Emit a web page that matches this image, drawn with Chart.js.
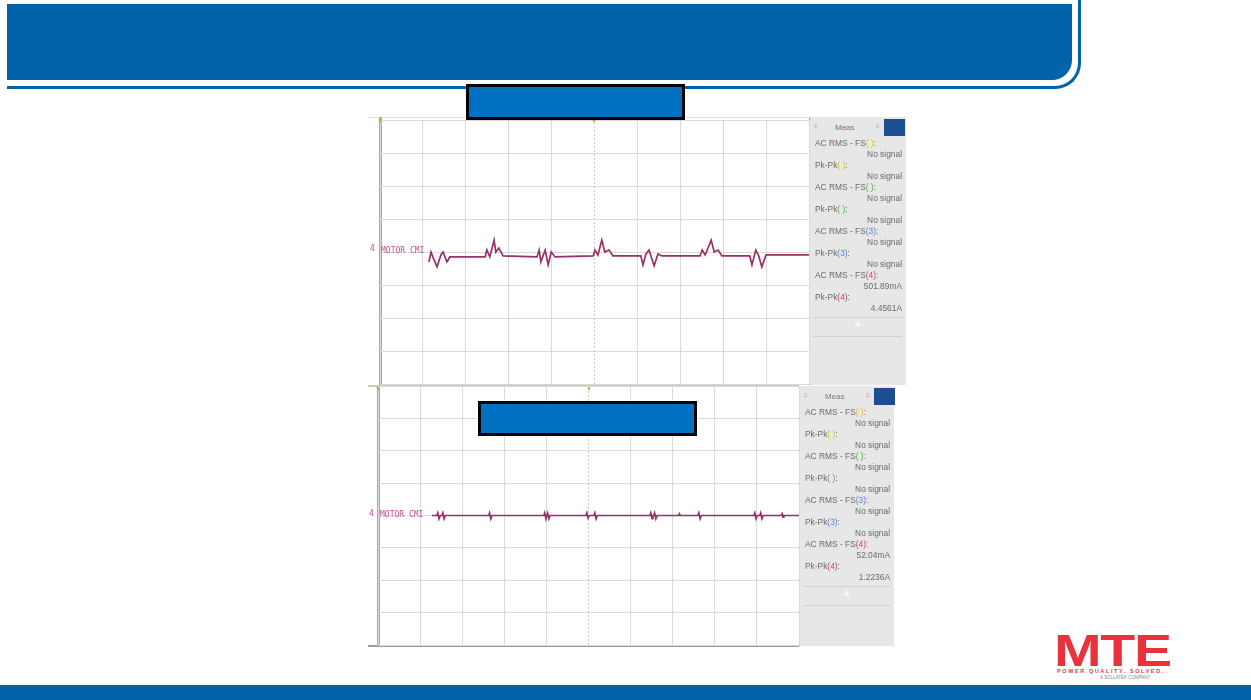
<!DOCTYPE html>
<html>
<head>
<meta charset="utf-8">
<script src="https://cdn.jsdelivr.net/npm/chart.js@4/dist/chart.umd.min.js"></script>
<style>
  html,body{margin:0;padding:0;background:#fff;}
  body{width:1251px;height:700px;position:relative;overflow:hidden;font-family:"Liberation Sans",Arial,sans-serif;}
  .abs{position:absolute;}
  .banner{left:7px;top:4px;width:1065px;height:76px;background:#0264a8;border-bottom-right-radius:20px;}
  .bannerOutline{left:7px;top:-10px;width:1071px;height:96px;border-right:3px solid #0264a8;border-bottom:3px solid #0264a8;border-bottom-right-radius:26px;}
  .footer{left:0;top:685px;width:1251px;height:15px;background:#0264a8;}
  .bluebox{background:#0070c0;border:3px solid #000;box-sizing:border-box;}
  .panel{background:#e7e7e7;border-left:1px solid #a8a8a8;box-sizing:border-box;}
  .prow{position:absolute;font-size:8.4px;color:#6a6a6a;white-space:nowrap;line-height:11px;}
  .lab{position:absolute;font-family:"DejaVu Sans Mono",monospace;font-size:8px;color:#c24f9a;white-space:nowrap;}
  .sq{background:#1d4f8f;}
  .sep{position:absolute;height:1px;background:#d0d0d0;}
</style>
</head>
<body>
<div class="abs bannerOutline"></div>
<div class="abs banner"></div>
<div class="abs footer"></div>

<!-- scope 1 frame -->
<div class="abs" style="left:368px;top:117px;width:441px;height:268px;background:#fff;border-top:1px solid #e0e0e0;"></div>
<div class="abs" style="left:379px;top:117px;width:3px;height:268px;background:#a9a9a9;"></div>
<div class="abs panel" style="left:809px;top:117px;width:97px;height:268px;"></div>
<!-- scope 2 frame -->
<div class="abs" style="left:368px;top:385px;width:431px;height:262px;background:#fff;border-top:2px solid #c8c8c8;box-sizing:border-box;border-bottom:2px solid #9a9a9a;"></div>
<div class="abs" style="left:377px;top:386px;width:3px;height:260px;background:#a9a9a9;"></div>
<div class="abs panel" style="left:799px;top:386px;width:95px;height:260px;"></div>

<canvas id="c1" class="abs" style="left:375px;top:115px;"></canvas>
<canvas id="c2" class="abs" style="left:373px;top:381px;"></canvas>

<div id="labels"></div>

<!-- blue boxes -->
<div class="abs bluebox" style="left:466px;top:84px;width:219px;height:36px;"></div>
<div class="abs bluebox" style="left:478px;top:401px;width:219px;height:35px;"></div>

<!-- MTE logo -->
<div class="abs" style="left:1054px;top:627px;font-family:'Liberation Sans',Arial,sans-serif;font-weight:bold;font-size:44px;color:#e8323c;letter-spacing:-1px;transform:scaleX(1.3);transform-origin:left top;line-height:48px;">MTE</div>
<div class="abs" style="left:1057px;top:668px;font-size:5.5px;color:#e8323c;font-weight:bold;letter-spacing:1.6px;white-space:nowrap;">POWER QUALITY. SOLVED.</div>
<div class="abs" style="left:1100px;top:675px;font-size:4.5px;color:#888;white-space:nowrap;">A SOLLATEK COMPANY</div>

<script>
// ---- Scope 1 trace (x: time divisions 0..10, y: vertical divisions -4..4) ----
const scope1X = [1.14,1.19,1.24,1.33,1.42,1.47,1.56,1.63,2.45,2.49,2.56,2.66,2.70,2.77,2.87,3.66,3.71,3.75,3.85,3.92,3.99,4.08,4.97,5.01,5.08,5.17,5.24,5.34,5.43,6.08,6.13,6.20,6.27,6.39,6.48,6.57,7.46,7.51,7.58,7.72,7.79,7.88,7.97,8.62,8.67,8.76,8.83,8.90,9.00,10.0];
const scope1Y = [-0.30,0.00,-0.18,-0.45,-0.09,0.00,-0.30,-0.15,-0.15,0.06,-0.15,0.36,0.00,0.12,-0.12,-0.15,0.06,-0.30,0.06,-0.39,0.00,-0.15,-0.12,0.06,-0.09,0.36,0.00,0.06,-0.12,-0.12,-0.39,-0.06,0.06,-0.42,-0.06,-0.12,-0.12,0.06,-0.09,0.36,0.00,0.06,-0.12,-0.12,-0.39,0.06,-0.12,-0.45,-0.09,-0.09];
// ---- Scope 2 trace ----
const scope2X = [1.28, 1.40,1.42,1.45,1.48, 1.52,1.54,1.57,1.60, 2.63,2.65,2.68,2.71, 3.94,3.96,3.99,4.01, 4.03,4.06,4.09, 4.94,4.96,4.99,5.02, 5.13,5.15,5.18,5.21, 6.46,6.48,6.51,6.53, 6.55,6.57,6.60,6.63, 7.14,7.16,7.18, 7.60,7.62,7.65,7.68, 8.93,8.95,8.98,9.01, 9.07,9.09,9.12,9.15, 9.58,9.60,9.62,9.64, 10.0];
const scope2Y = [0, 0,0.08,-0.10,0, 0,0.08,-0.10,0, 0,0.08,-0.10,0, 0,0.08,-0.10,0, 0.08,-0.10,0, 0,0.08,-0.08,0, 0,0.08,-0.10,0, 0,0.08,-0.10,0, 0,0.08,-0.10,0, 0,0.05,0, 0,0.08,-0.10,0, 0,0.08,-0.10,0, 0,0.08,-0.10,0, 0,0.05,-0.05,0, 0];
// ---- Grid / axis definitions ----
const xDivs = [0,10];
const yDivs = [-4,4];
const centerLineY = [-4,4];
// ---- Measurement panel texts ----
const measNames = ["AC RMS - FS","Pk-Pk","AC RMS - FS","Pk-Pk","AC RMS - FS","Pk-Pk","AC RMS - FS","Pk-Pk"];
const measCh = [" "," "," "," ","3","3","4","4"];
const measColors = ["#d9c21a","#d9c21a","#4fb24a","#4fb24a","#5c7fd6","#5c7fd6","#d04070","#d04070"];
const meas1Values = ["No signal","No signal","No signal","No signal","No signal","No signal","501.89mA","4.4561A"];
const meas2Values = ["No signal","No signal","No signal","No signal","No signal","No signal","52.04mA","1.2236A"];
const traceLabel = "MOTOR CMI";

function makeScope(id, w, h, xs, ys, pad){
  const pts = xs.map((x,i)=>({x:x,y:ys[i]}));
  const cl = centerLineY.map(v=>({x:5,y:v}));
  const cv = document.getElementById(id);
  cv.width = w; cv.height = h; cv.style.width = w+'px'; cv.style.height = h+'px';
  new Chart(cv, {
    type:'line',
    data:{datasets:[
      {data:cl, borderColor:'#c9c9c9', borderWidth:1, borderDash:[2,2], pointRadius:0, order:2},
      {data:pts, borderColor:'#98306a', borderWidth:1.7, pointRadius:0, tension:0, order:1}
    ]},
    options:{
      responsive:false, animation:false, devicePixelRatio:1,
      layout:{padding:pad},
      plugins:{legend:{display:false}, tooltip:{enabled:false}},
      scales:{
        x:{type:'linear', min:xDivs[0], max:xDivs[1], ticks:{display:false, stepSize:1},
           grid:{drawTicks:false, color:(c)=> c.tick && c.tick.value===5 ? 'rgba(0,0,0,0)' : '#dadada'}, border:{display:false}},
        y:{type:'linear', min:yDivs[0], max:yDivs[1], ticks:{display:false, stepSize:1},
           grid:{drawTicks:false, color:'#dadada'}, border:{display:false}}
      }
    }
  });
}
makeScope('c1', 439, 274, scope1X, scope1Y, 5);
makeScope('c2', 431, 269, scope2X, scope2Y, 5);

// ---- Labels & panels (HTML text) ----
const L = document.getElementById('labels');
function add(html, style, cls){
  const d = document.createElement('div');
  d.className = cls || 'abs';
  d.style.cssText = style;
  d.innerHTML = html;
  L.appendChild(d);
}
function panel(left, top, width, values){
  add('Meas', `left:${left+26}px;top:${top+5}px;font-size:8px;color:#777;`, 'prow');
  add('', `left:${left+75}px;top:${top+2}px;width:21px;height:17px;`, 'abs sq');
  add('≡', `left:${left+5}px;top:${top+4}px;font-size:6px;color:#aaa;`, 'prow');
  add('≡', `left:${left+67}px;top:${top+4}px;font-size:6px;color:#aaa;`, 'prow');
  let y = top + 21;
  for(let i=0;i<measNames.length;i++){
    add(`${measNames[i]}<span style="color:${measColors[i]}">(${measCh[i]})</span>:`, `left:${left+6}px;top:${y}px;`, 'prow');
    y += 11;
    add(values[i], `right:${1251-(left+width-4)}px;top:${y}px;`, 'prow');
    y += 11;
  }
  add('', `left:${left+4}px;top:${y+3}px;width:${width-8}px;`, 'sep');
  add('+', `left:${left+width/2-3}px;top:${y+5}px;font-size:11px;color:#fff;font-weight:bold;`, 'prow');
  add('', `left:${left+4}px;top:${y+22}px;width:${width-8}px;`, 'sep');
}
panel(809, 117, 97, meas1Values);
panel(799, 386, 95, meas2Values);

add(traceLabel, 'left:381px;top:246px;', 'lab');
add('4', 'left:370px;top:244px;font-size:8px;', 'lab');
add(traceLabel, 'left:380px;top:510px;', 'lab');
add('4', 'left:369px;top:509px;font-size:8px;', 'lab');
// trigger markers
add('▼', 'left:377px;top:116px;font-size:6px;color:#d7a040;', 'prow');
add('▼', 'left:591px;top:116px;font-size:6px;color:#d7a040;', 'prow');
add('▼', 'left:375px;top:384px;font-size:6px;color:#d7a040;', 'prow');
add('▼', 'left:586px;top:384px;font-size:6px;color:#d7a040;', 'prow');
</script>
</body>
</html>
